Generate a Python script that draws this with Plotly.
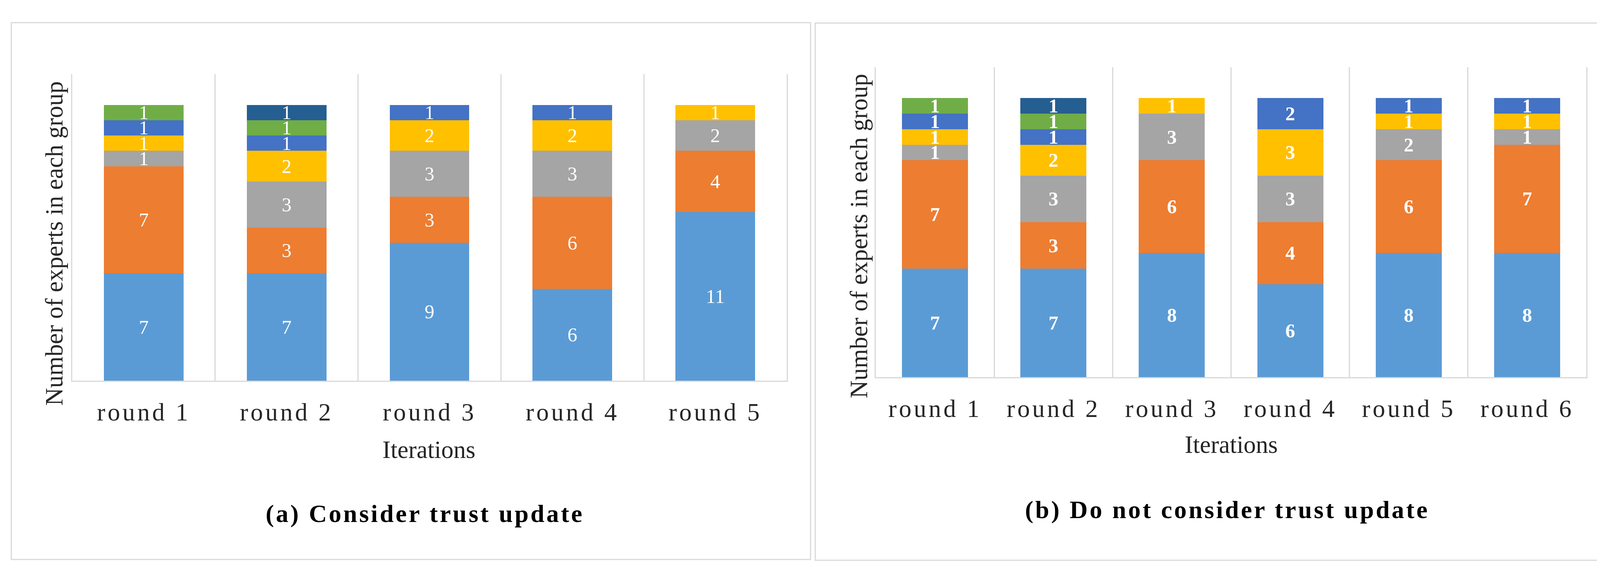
import plotly.graph_objects as go

# ---------------- data ----------------
rounds_a = ["round 1", "round 2", "round 3", "round 4", "round 5"]
rounds_b = ["round 1", "round 2", "round 3", "round 4", "round 5", "round 6"]

group_colors = ["#5B9BD5", "#ED7D31", "#A5A5A5", "#FFC000", "#4472C4", "#70AD47", "#255E91"]

# (a) Consider trust update: experts per group (bottom -> top)
a_g1 = [7, 7, 9, 6, 11]
a_g2 = [7, 3, 3, 6, 4]
a_g3 = [1, 3, 3, 3, 2]
a_g4 = [1, 2, 2, 2, 1]
a_g5 = [1, 1, 1, 1, 0]
a_g6 = [1, 1, 0, 0, 0]
a_g7 = [0, 1, 0, 0, 0]

# (b) Do not consider trust update
b_g1 = [7, 7, 8, 6, 8, 8]
b_g2 = [7, 3, 6, 4, 6, 7]
b_g3 = [1, 3, 3, 3, 2, 1]
b_g4 = [1, 2, 1, 3, 1, 1]
b_g5 = [1, 1, 0, 2, 1, 1]
b_g6 = [1, 1, 0, 0, 0, 0]
b_g7 = [0, 1, 0, 0, 0, 0]

groups_a = [a_g1, a_g2, a_g3, a_g4, a_g5, a_g6, a_g7]
groups_b = [b_g1, b_g2, b_g3, b_g4, b_g5, b_g6, b_g7]

y_title = "Number of experts in each group"
x_title = "Iterations"
caption_a = "(a) Consider trust update"
caption_b = "(b) Do not consider trust update"

# ---------------- figure ----------------
# page body has an 8px default margin; size the figure so the page is 4166x1483
OFF = 8
W, H = 4166 - 2 * OFF, 1483 - 2 * OFF
FONT = "Liberation Serif"
GRID = "#D9D9D9"


def px(v):
    return (v - OFF) / W


def py(v):
    return 1 - (v - OFF) / H


fig = go.Figure()


def add_panel(cats, groups, xa, ya, label_weight):
    for i, vals in enumerate(groups):
        fig.add_trace(go.Bar(
            x=cats, y=vals, xaxis=xa, yaxis=ya,
            marker=dict(color=group_colors[i], line=dict(width=0)),
            text=[str(v) if v else "" for v in vals],
            textposition="inside", insidetextanchor="middle",
            constraintext="none", textangle=0,
            textfont=dict(family=FONT, size=50, color="white", weight=label_weight),
            showlegend=False, hoverinfo="skip",
        ))


add_panel(rounds_a, groups_a, "x", "y", "normal")
add_panel(rounds_b, groups_b, "x2", "y2", "bold")


def spaced(t, sp):
    return '<span style="letter-spacing:%dpx">%s</span>' % (sp, t)


def xaxis_cfg(domain, anchor, cats):
    return dict(
        domain=domain, anchor=anchor, type="category",
        tickson="boundaries", showgrid=True, gridcolor=GRID, gridwidth=3,
        showline=True, linecolor=GRID, linewidth=3,
        ticks="", zeroline=False,
        tickvals=cats, ticktext=[spaced(c, 6) for c in cats],
        tickfont=dict(family=FONT, size=64, color="#262626"),
        ticklabelstandoff=22,
        range=[-0.5, len(cats) - 0.5], fixedrange=True,
    )


def yaxis_cfg(domain, anchor):
    return dict(
        domain=domain, anchor=anchor, range=[0, 20],
        showgrid=False, zeroline=False, showticklabels=False, ticks="",
        showline=True, mirror=True, linecolor=GRID, linewidth=3,
        fixedrange=True,
    )


L = dict(x0=185, x1=2014, yt=190, yb=975)
R = dict(x0=2242, x1=4061, yt=172, yb=966)

fig.update_layout(
    width=W, height=H,
    margin=dict(l=0, r=0, t=0, b=0),
    paper_bgcolor="white", plot_bgcolor="white",
    barmode="stack", bargap=0.443,
    xaxis=xaxis_cfg([px(L["x0"]), px(L["x1"])], "y", rounds_a),
    yaxis=yaxis_cfg([py(L["yb"]), py(L["yt"])], "x"),
    xaxis2=xaxis_cfg([px(R["x0"]), px(R["x1"])], "y2", rounds_b),
    yaxis2=yaxis_cfg([py(R["yb"]), py(R["yt"])], "x2"),
    font=dict(family=FONT, color="#262626"),
)

# panel frames
for (x0, y0, x1, y1) in [(29, 58, 2075, 1433), (2087, 59, 4123, 1435)]:
    fig.add_shape(type="rect", xref="paper", yref="paper",
                  x0=px(x0), x1=px(x1), y0=py(y1), y1=py(y0),
                  line=dict(color=GRID, width=3), fillcolor="rgba(0,0,0,0)")

ann = []
# y-axis titles
for cx, cy in [(139, 624), (2199, 605)]:
    ann.append(dict(text=y_title, x=px(cx), y=py(cy), xref="paper", yref="paper",
                    xanchor="center", yanchor="middle", textangle=-90, showarrow=False,
                    font=dict(family=FONT, size=63, color="#262626")))
# x-axis titles
for cx, cy in [(1098, 1152), (3152, 1139)]:
    ann.append(dict(text=x_title, x=px(cx), y=py(cy), xref="paper", yref="paper",
                    xanchor="center", yanchor="middle", showarrow=False,
                    font=dict(family=FONT, size=63, color="#262626")))
# captions
for txt, cx, cy in [(caption_a, 1087, 1315), (caption_b, 3141, 1305)]:
    ann.append(dict(text="<b>" + spaced(txt, 5) + "</b>", x=px(cx), y=py(cy),
                    xref="paper", yref="paper", xanchor="center", yanchor="middle",
                    showarrow=False, font=dict(family=FONT, size=64, color="#000000")))
fig.update_layout(annotations=ann)

fig.write_html("out.html")
